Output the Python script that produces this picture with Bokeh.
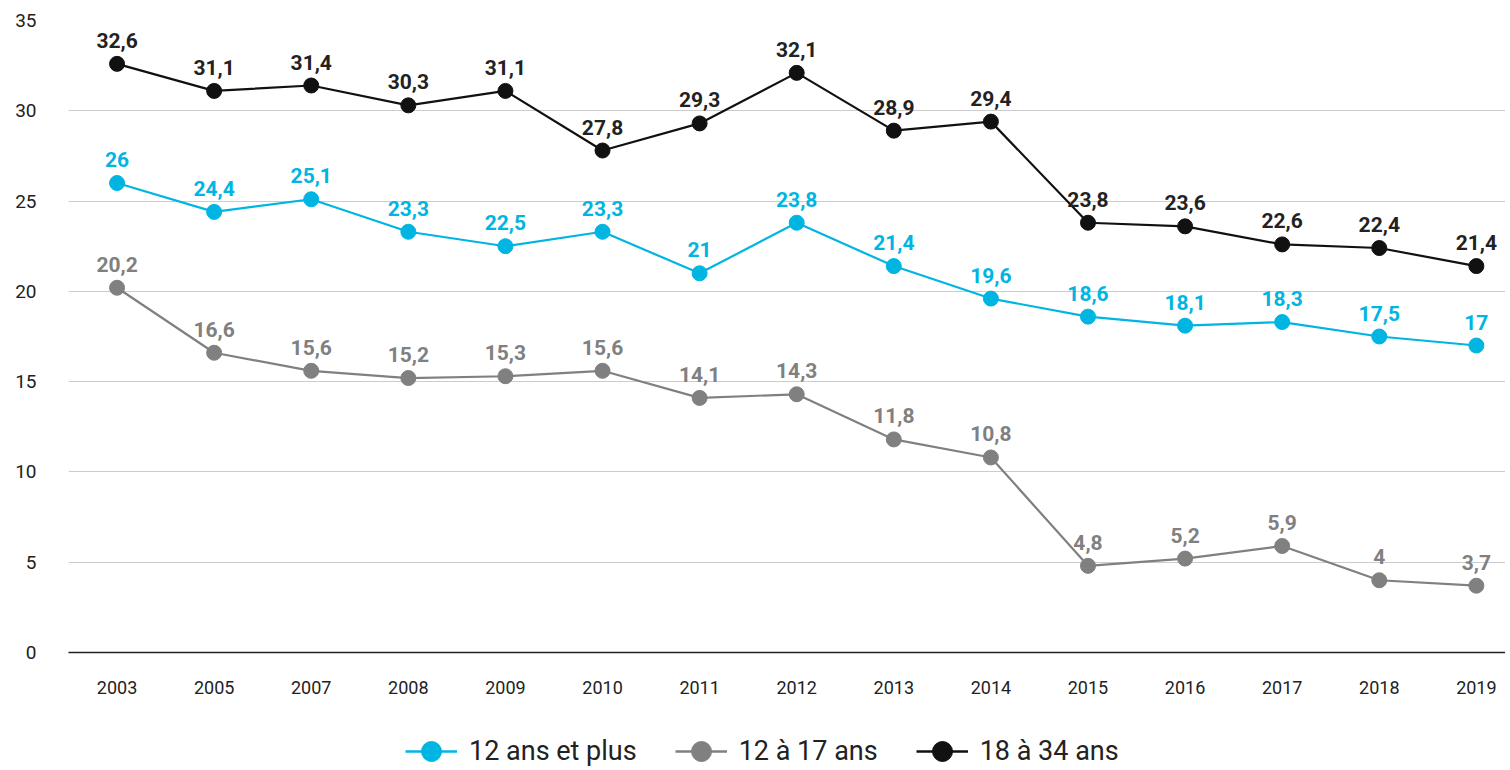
from bokeh.plotting import figure
from bokeh.models import ColumnDataSource, FixedTicker, Legend, LegendItem, Range1d
from bokeh.layouts import column
from bokeh.core.properties import value
from bokeh.embed import file_html
from bokeh.resources import INLINE

years = ["2003", "2005", "2007", "2008", "2009", "2010", "2011", "2012",
         "2013", "2014", "2015", "2016", "2017", "2018", "2019"]
s_all = [26, 24.4, 25.1, 23.3, 22.5, 23.3, 21, 23.8, 21.4, 19.6, 18.6, 18.1, 18.3, 17.5, 17]
s_teen = [20.2, 16.6, 15.6, 15.2, 15.3, 15.6, 14.1, 14.3, 11.8, 10.8, 4.8, 5.2, 5.9, 4, 3.7]
s_young = [32.6, 31.1, 31.4, 30.3, 31.1, 27.8, 29.3, 32.1, 28.9, 29.4, 23.8, 23.6, 22.6, 22.4, 21.4]
series_names = ["12 ans et plus", "12 à 17 ans", "18 à 34 ans"]
y_ticks = [0, 5, 10, 15, 20, 25, 30, 35]

FONT = "Roboto"
colors = ["#00b5e2", "#808080", "#111111"]
label_colors = ["#00b5e2", "#808080", "#222222"]

def fmt(v):
    return str(int(v)) if float(v).is_integer() else str(v).replace(".", ",")

p = figure(width=1505, height=696, output_backend="svg", toolbar_location=None,
           x_range=Range1d(-0.5, 14.3), y_range=Range1d(0, 35),
           min_border_left=68, min_border_top=20, min_border_bottom=44,
           min_border_right=0)
p.outline_line_color = None
p.background_fill_color = "white"

p.xgrid.grid_line_color = None
p.ygrid.grid_line_color = "#cccccc"
p.ygrid.grid_line_width = 1

p.yaxis.ticker = FixedTicker(ticks=y_ticks)
p.yaxis.axis_line_color = None
p.yaxis.major_tick_line_color = None
p.yaxis.minor_tick_line_color = None
p.yaxis.major_label_standoff = 26
p.yaxis.major_label_text_font = FONT
p.yaxis.major_label_text_font_size = "19px"
p.yaxis.major_label_text_color = "#222222"

xs = list(range(len(years)))
p.xaxis.ticker = FixedTicker(ticks=xs)
p.xaxis.major_label_overrides = {i: y for i, y in enumerate(years)}
p.xaxis.axis_line_color = "#222222"
p.xaxis.axis_line_width = 1.5
p.xaxis.major_tick_line_color = None
p.xaxis.minor_tick_line_color = None
p.xaxis.major_label_standoff = 22
p.xaxis.major_label_text_font = FONT
p.xaxis.major_label_text_font_size = "18px"
p.xaxis.major_label_text_color = "#222222"

# legend-only strip below the chart
lg = figure(width=1505, height=74, output_backend="svg", toolbar_location=None,
            x_range=Range1d(0, 1), y_range=Range1d(0, 1),
            x_axis_type=None, y_axis_type=None,
            min_border_left=0, min_border_right=0, min_border_top=0, min_border_bottom=0)
lg.outline_line_color = None
lg.grid.grid_line_color = None

items = []
for name, vals, col, lcol in zip(series_names, [s_all, s_teen, s_young], colors, label_colors):
    src = ColumnDataSource(dict(x=xs, y=vals, lab=[fmt(v) for v in vals]))
    p.line("x", "y", source=src, line_color=col, line_width=2.2)
    p.scatter("x", "y", source=src, size=15, fill_color=col, line_color=col)
    p.text("x", "y", text="lab", source=src, text_font=value(FONT), text_font_style="bold",
           text_font_size="21px", text_color=lcol, text_align="center",
           text_baseline="bottom", y_offset=-16)
    # off-screen proxy marks, only used to draw the legend keys
    lsrc = ColumnDataSource(dict(x=[-10, -9], y=[-10, -10]))
    ln = lg.line("x", "y", source=lsrc, line_color=col, line_width=2.5)
    sc = lg.scatter("x", "y", source=lsrc, fill_color=col, line_color=col)
    items.append(LegendItem(label=name, renderers=[ln, sc]))

legend = Legend(items=items, orientation="horizontal", location=(337, -6),
                label_text_font=FONT, label_text_font_size="27px",
                label_text_color="#222222", glyph_width=52, glyph_height=50,
                spacing=38, border_line_color=None, background_fill_alpha=0,
                margin=0, padding=0, label_standoff=12)
lg.add_layout(legend, "center")

layout = column(p, lg, spacing=0)
open("out.html", "w").write(file_html(layout, INLINE))
